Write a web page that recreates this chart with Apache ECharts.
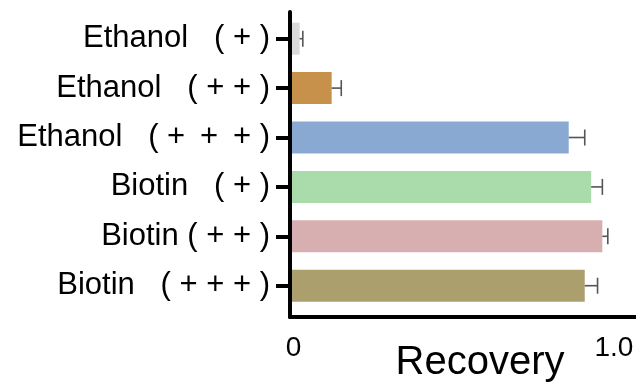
<!DOCTYPE html>
<html>
<head>
<meta charset="utf-8">
<title>Recovery</title>
<script src="https://cdn.jsdelivr.net/npm/echarts@6/dist/echarts.min.js"></script>
<style>
  html, body { margin: 0; padding: 0; background: #fff; }
  #chart { width: 636px; height: 387px; }
</style>
</head>
<body>
<div id="chart"></div>
<script>
// Treatment groups, top to bottom
const categories = [
  'Ethanol   ( + )',
  'Ethanol   ( + + )',
  'Ethanol   ( + \u2009+ \u2009+ )',
  'Biotin   ( + )',
  'Biotin ( + + )',
  'Biotin   ( + + + )'
];
// Mean recovery and its error (upper whisker only)
const recovery = [0.03, 0.13, 0.87, 0.94, 0.975, 0.92];
const recoveryErr = [0.01, 0.03, 0.05, 0.035, 0.017, 0.04];
const barColors = ['#dadada', '#c8914b', '#89a9d3', '#a9dcaa', '#d8afb1', '#ab9f6d'];
// Value axis ticks
const xTicks = [0, 1];
const xTickLabels = ['0', '1.0'];

const FONT = '"Liberation Sans", Arial, Helvetica, sans-serif';
const X_MAX = 1.08;

const chart = echarts.init(document.getElementById('chart'));

chart.setOption({
  animation: false,
  backgroundColor: '#ffffff',
  grid: [
    // plotting area for the bars
    { left: 290, right: 0, top: 14, bottom: 76.6, containLabel: false, outerBoundsMode: 'none' },
    // frame carrying the two axis lines and the value labels
    { left: 290, right: 0, top: 12, bottom: 70, containLabel: false, outerBoundsMode: 'none' }
  ],
  xAxis: [
    { gridIndex: 0, type: 'value', min: 0, max: X_MAX, show: false },
    {
      gridIndex: 1, type: 'value', min: 0, max: X_MAX, interval: 1, z: 10,
      name: 'Recovery', nameLocation: 'middle', nameGap: 26, nameMoveOverlap: false,
      nameTextStyle: { fontFamily: FONT, fontSize: 40, color: '#000', padding: [0, 0, 0, 34] },
      axisLine: { show: true, onZero: false, lineStyle: { color: '#000', width: 4 } },
      axisTick: { show: false },
      splitLine: { show: false },
      axisLabel: {
        margin: 17, fontFamily: FONT, fontSize: 28, color: '#000', padding: [0, 0, 0, 7],
        formatter: function (v) {
          const i = xTicks.findIndex(t => Math.abs(t - v) < 1e-9);
          return i >= 0 ? xTickLabels[i] : '';
        }
      }
    }
  ],
  yAxis: [
    {
      gridIndex: 0, type: 'category', data: categories, inverse: true,
      axisLine: { show: false },
      axisTick: { show: true, alignWithLabel: true, length: 14, lineStyle: { color: '#000', width: 4 } },
      axisLabel: { margin: 20, fontFamily: FONT, fontSize: 31, color: '#000' },
      splitLine: { show: false }
    },
    {
      gridIndex: 1, type: 'value', min: 0, max: 1, z: 10,
      axisLine: { show: true, onZero: false, lineStyle: { color: '#000', width: 4 } },
      axisTick: { show: false },
      axisLabel: { show: false },
      splitLine: { show: false }
    }
  ],
  series: [
    {
      type: 'bar',
      xAxisIndex: 0, yAxisIndex: 0,
      barWidth: 32,
      data: recovery.map((v, i) => ({ value: v, itemStyle: { color: barColors[i] } })),
      z: 2
    },
    {
      // upper error whiskers with end caps
      type: 'custom',
      xAxisIndex: 0, yAxisIndex: 0,
      z: 3,
      data: recovery.map((v, i) => [v, i, v + recoveryErr[i]]),
      renderItem: function (params, api) {
        const start = api.coord([api.value(0), api.value(1)]);
        const end = api.coord([api.value(2), api.value(1)]);
        const half = 8;
        const style = { stroke: '#555', lineWidth: 1.6 };
        return {
          type: 'group',
          children: [
            { type: 'line', shape: { x1: start[0], y1: start[1], x2: end[0], y2: end[1] }, style: style },
            { type: 'line', shape: { x1: end[0], y1: end[1] - half, x2: end[0], y2: end[1] + half }, style: style }
          ]
        };
      }
    }
  ]
});
</script>
</body>
</html>
